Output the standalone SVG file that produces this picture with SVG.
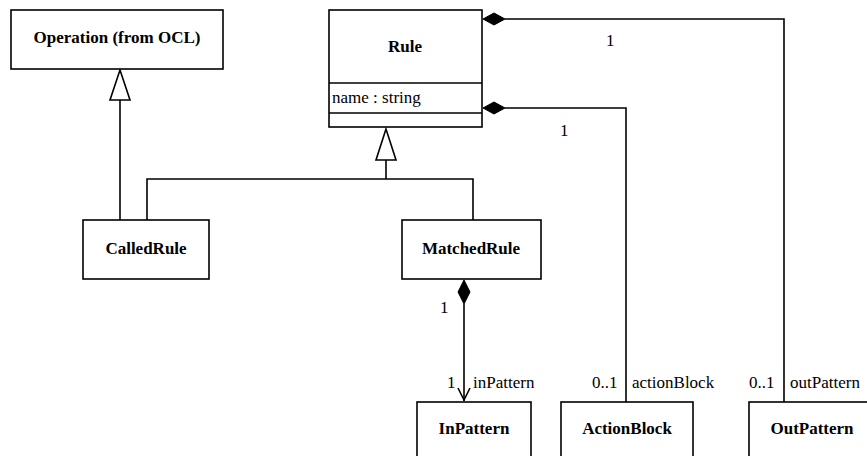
<svg xmlns="http://www.w3.org/2000/svg" width="867" height="456" viewBox="0 0 867 456">
<style>
.box{fill:#fff;stroke:#000;stroke-width:1.6}
.line{fill:none;stroke:#000;stroke-width:1.6}
.name{font-family:"Liberation Serif","Times New Roman",serif;font-weight:bold;font-size:17px;text-anchor:middle;fill:#000}
.lbl{font-family:"Liberation Serif","Times New Roman",serif;font-size:17px;fill:#000}
.tri{fill:#fff;stroke:#000;stroke-width:1.6}
.dia{fill:#000;stroke:#000;stroke-width:1}
</style>
<rect width="867" height="456" fill="#fff"/>
<g id="connectors">
  <!-- CalledRule -> Operation generalization -->
  <line class="line" x1="120" y1="100" x2="120" y2="220"/>
  <polygon class="tri" points="120,70 110,100 130,100"/>
  <!-- Rule generalization -->
  <polyline class="line" points="147,220 147,179 473,179 473,220"/>
  <line class="line" x1="386" y1="160" x2="386" y2="179"/>
  <polygon class="tri" points="386,129 376,160 396,160"/>
  <!-- Rule -> OutPattern -->
  <polyline class="line" points="505,19 784,19 784,402"/>
  <polygon class="dia" points="483,19 494,13 505,19 494,25"/>
  <text class="lbl" x="606" y="46">1</text>
  <text class="lbl" x="749" y="388">0..1</text>
  <text class="lbl" x="790" y="388">outPattern</text>
  <!-- Rule -> ActionBlock -->
  <polyline class="line" points="505,108 626,108 626,402"/>
  <polygon class="dia" points="483,108 494,102 505,108 494,114"/>
  <text class="lbl" x="560" y="136">1</text>
  <text class="lbl" x="592" y="388">0..1</text>
  <text class="lbl" x="632" y="388">actionBlock</text>
  <!-- MatchedRule -> InPattern -->
  <line class="line" x1="464" y1="304" x2="464" y2="401"/>
  <polygon class="dia" points="464,280 470,292 464,304 458,292"/>
  <polyline class="line" points="458,388 464,400 470,388"/>
  <text class="lbl" x="440" y="313">1</text>
  <text class="lbl" x="447" y="388">1</text>
  <text class="lbl" x="473" y="388">inPattern</text>
</g>
<g id="operation">
  <rect class="box" x="11" y="10" width="212" height="59"/>
  <text class="name" x="117" y="43">Operation (from OCL)</text>
</g>
<g id="rule">
  <rect class="box" x="329" y="10" width="153" height="117"/>
  <line class="line" x1="329" y1="83" x2="482" y2="83"/>
  <line class="line" x1="329" y1="113" x2="482" y2="113"/>
  <text class="name" x="405" y="52">Rule</text>
  <text class="lbl" x="332" y="103">name : string</text>
</g>
<g id="calledrule">
  <rect class="box" x="83" y="220" width="126" height="59"/>
  <text class="name" x="146" y="254">CalledRule</text>
</g>
<g id="matchedrule">
  <rect class="box" x="402" y="220" width="139" height="59"/>
  <text class="name" x="471" y="254">MatchedRule</text>
</g>
<g id="inpattern">
  <rect class="box" x="417" y="402" width="114" height="60"/>
  <text class="name" x="474" y="434">InPattern</text>
</g>
<g id="actionblock">
  <rect class="box" x="561" y="402" width="132" height="60"/>
  <text class="name" x="627" y="434">ActionBlock</text>
</g>
<g id="outpattern">
  <rect class="box" x="749" y="402" width="126" height="60"/>
  <text class="name" x="812" y="434">OutPattern</text>
</g>
</svg>
